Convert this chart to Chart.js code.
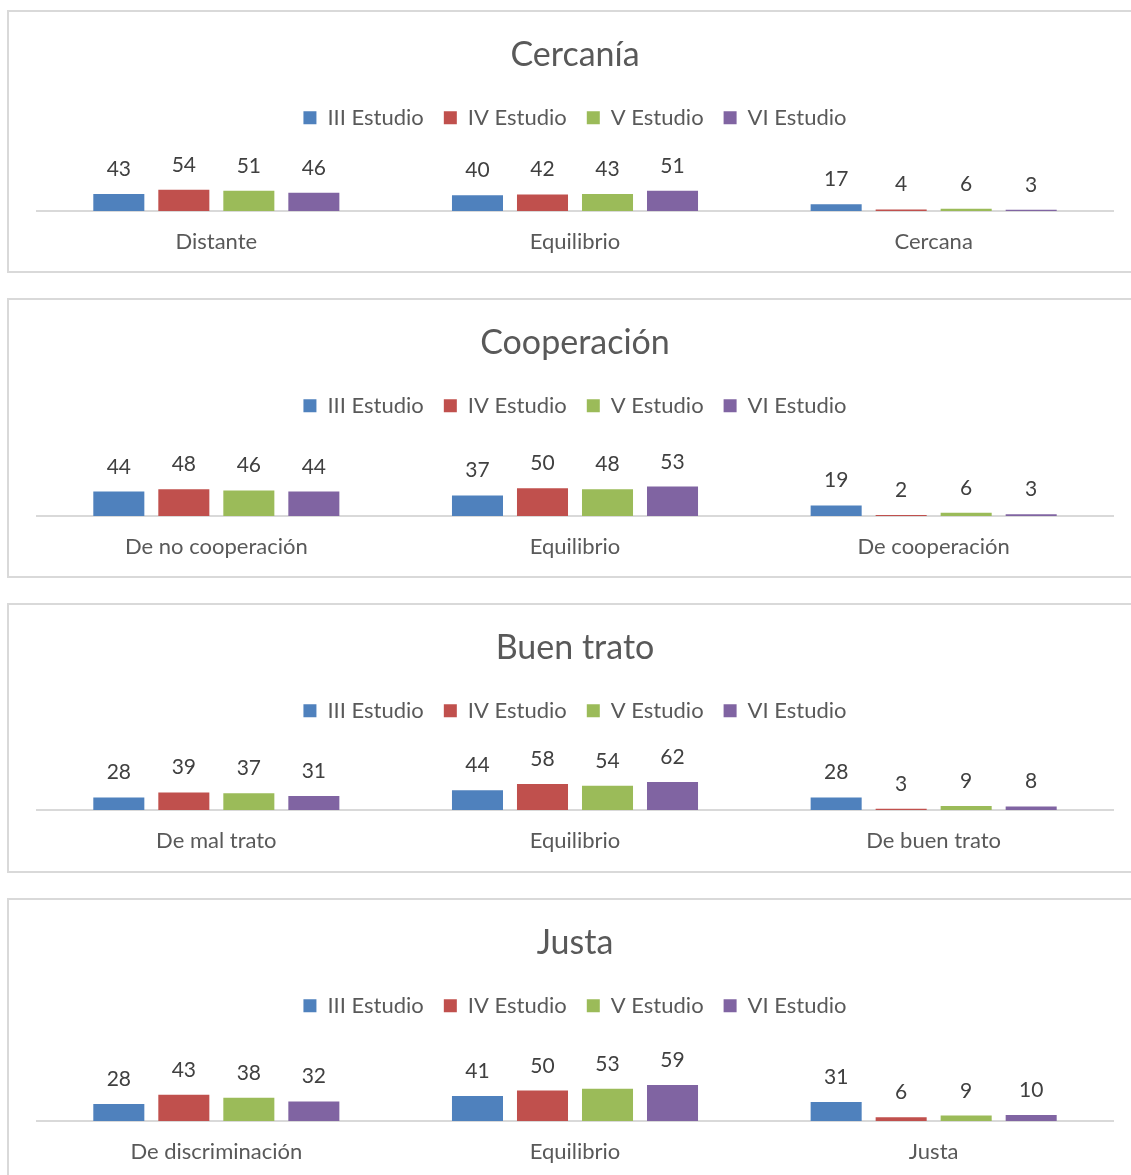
<!DOCTYPE html>
<html>
<head>
<meta charset="utf-8">
<script src="https://cdn.jsdelivr.net/npm/chart.js@4.4.1/dist/chart.umd.min.js"></script>
<style>
html, body { margin: 0; padding: 0; background: #fff; overflow: hidden; width: 1131px; height: 1175px; }
.panel { position: absolute; left: 7px; width: 1150px; border: 2px solid #d9d9d9; box-sizing: border-box; background: #fff; }
.panel canvas { position: absolute; left: 0; top: 0; }
</style>
</head>
<body>
<div class="panel" id="p0"><canvas id="c0"></canvas></div>
<div class="panel" id="p1"><canvas id="c1"></canvas></div>
<div class="panel" id="p2"><canvas id="c2"></canvas></div>
<div class="panel" id="p3"><canvas id="c3"></canvas></div>
<script>
const seriesNames = ["III Estudio", "IV Estudio", "V Estudio", "VI Estudio"];
const seriesColors = ["#4F81BD", "#C0504D", "#9BBB59", "#8064A2"];

// Cercanía
const cercaniaLabels = ["Distante", "Equilibrio", "Cercana"];
const cercaniaIII = [43, 40, 17];
const cercaniaIV = [54, 42, 4];
const cercaniaV = [51, 43, 6];
const cercaniaVI = [46, 51, 3];

// Cooperación
const cooperacionLabels = ["De no cooperación", "Equilibrio", "De cooperación"];
const cooperacionIII = [44, 37, 19];
const cooperacionIV = [48, 50, 2];
const cooperacionV = [46, 48, 6];
const cooperacionVI = [44, 53, 3];

// Buen trato
const buenTratoLabels = ["De mal trato", "Equilibrio", "De buen trato"];
const buenTratoIII = [28, 44, 28];
const buenTratoIV = [39, 58, 3];
const buenTratoV = [37, 54, 9];
const buenTratoVI = [31, 62, 8];

// Justa
const justaLabels = ["De discriminación", "Equilibrio", "Justa"];
const justaIII = [28, 41, 31];
const justaIV = [43, 50, 6];
const justaV = [38, 53, 9];
const justaVI = [32, 59, 10];

const charts = [
    {title: "Cercanía", labels: cercaniaLabels, series: [cercaniaIII, cercaniaIV, cercaniaV, cercaniaVI]},
    {title: "Cooperación", labels: cooperacionLabels, series: [cooperacionIII, cooperacionIV, cooperacionV, cooperacionVI]},
    {title: "Buen trato", labels: buenTratoLabels, series: [buenTratoIII, buenTratoIV, buenTratoV, buenTratoVI]},
    {title: "Justa", labels: justaLabels, series: [justaIII, justaIV, justaV, justaVI]}
];

// panel boxes on the page: top, outer height, axis baseline inside canvas, pixels per unit
const panelBoxes = [
    {top: 10, height: 263, baseline: 198, ppu: 0.395},
    {top: 298, height: 280, baseline: 215, ppu: 0.555},
    {top: 603, height: 270, baseline: 204, ppu: 0.45},
    {top: 898, height: 290, baseline: 220, ppu: 0.61}
];

const FONT = "Lato, 'Open Sans', sans-serif";
const canvasWidth = 1146;
const axisHeight = 18 + 22 * 1.2 + 19; // tick padding + label line + extra measured

// scale y so that bars keep the same pixel height per unit as the original
const fixedScale = {
    id: 'fixedScale',
    afterLayout(chart) {
        const y = chart.scales.y;
        const h = chart.chartArea.bottom - chart.chartArea.top;
        y.min = 0;
        y.max = h / chart.options.plugins.fixedScale.ppu;
        y.configure();
    }
};

// value labels above bars
const valueLabels = {
    id: 'valueLabels',
    afterDatasetsDraw(chart) {
        const ctx = chart.ctx;
        ctx.save();
        ctx.font = "21px " + FONT;
        ctx.fillStyle = "#404040";
        ctx.textAlign = "center";
        ctx.textBaseline = "alphabetic";
        chart.data.datasets.forEach((ds, i) => {
            chart.getDatasetMeta(i).data.forEach((bar, j) => {
                ctx.fillText(ds.data[j], bar.x, bar.y - 18);
            });
        });
        ctx.restore();
    }
};

charts.forEach((c, k) => {
    const box = panelBoxes[k];
    const panel = document.getElementById("p" + k);
    panel.style.top = box.top + "px";
    panel.style.height = box.height + "px";
    const canvas = document.getElementById("c" + k);
    const canvasHeight = box.height - 4;
    canvas.width = canvasWidth;
    canvas.height = canvasHeight;
    canvas.style.width = canvasWidth + "px";
    canvas.style.height = canvasHeight + "px";

    new Chart(canvas, {
        type: "bar",
        data: {
            labels: c.labels,
            datasets: c.series.map((vals, i) => ({
                label: seriesNames[i],
                data: vals,
                backgroundColor: seriesColors[i],
                borderWidth: 0,
                categoryPercentage: 0.725,
                barPercentage: 0.785
            }))
        },
        options: {
            responsive: false,
            animation: false,
            devicePixelRatio: 1,
            layout: {
                padding: {left: 28, right: 42, top: 0, bottom: canvasHeight - axisHeight - box.baseline}
            },
            plugins: {
                fixedScale: {ppu: box.ppu},
                tooltip: {enabled: false},
                title: {
                    display: true,
                    text: c.title,
                    color: "#595959",
                    font: {family: FONT, size: 34, weight: "normal"},
                    padding: {top: 23, bottom: 11}
                },
                legend: {
                    display: true,
                    position: "top",
                    labels: {
                        color: "#595959",
                        font: {family: FONT, size: 22},
                        boxWidth: 13,
                        boxHeight: 13,
                        padding: 20
                    }
                }
            },
            scales: {
                x: {
                    grid: {display: false, drawTicks: false},
                    border: {display: true, color: "#d9d9d9", width: 2},
                    ticks: {color: "#595959", font: {family: FONT, size: 22}, padding: 18}
                },
                y: {
                    display: false,
                    min: 0
                }
            }
        },
        plugins: [fixedScale, valueLabels]
    });
});
</script>
</body>
</html>
